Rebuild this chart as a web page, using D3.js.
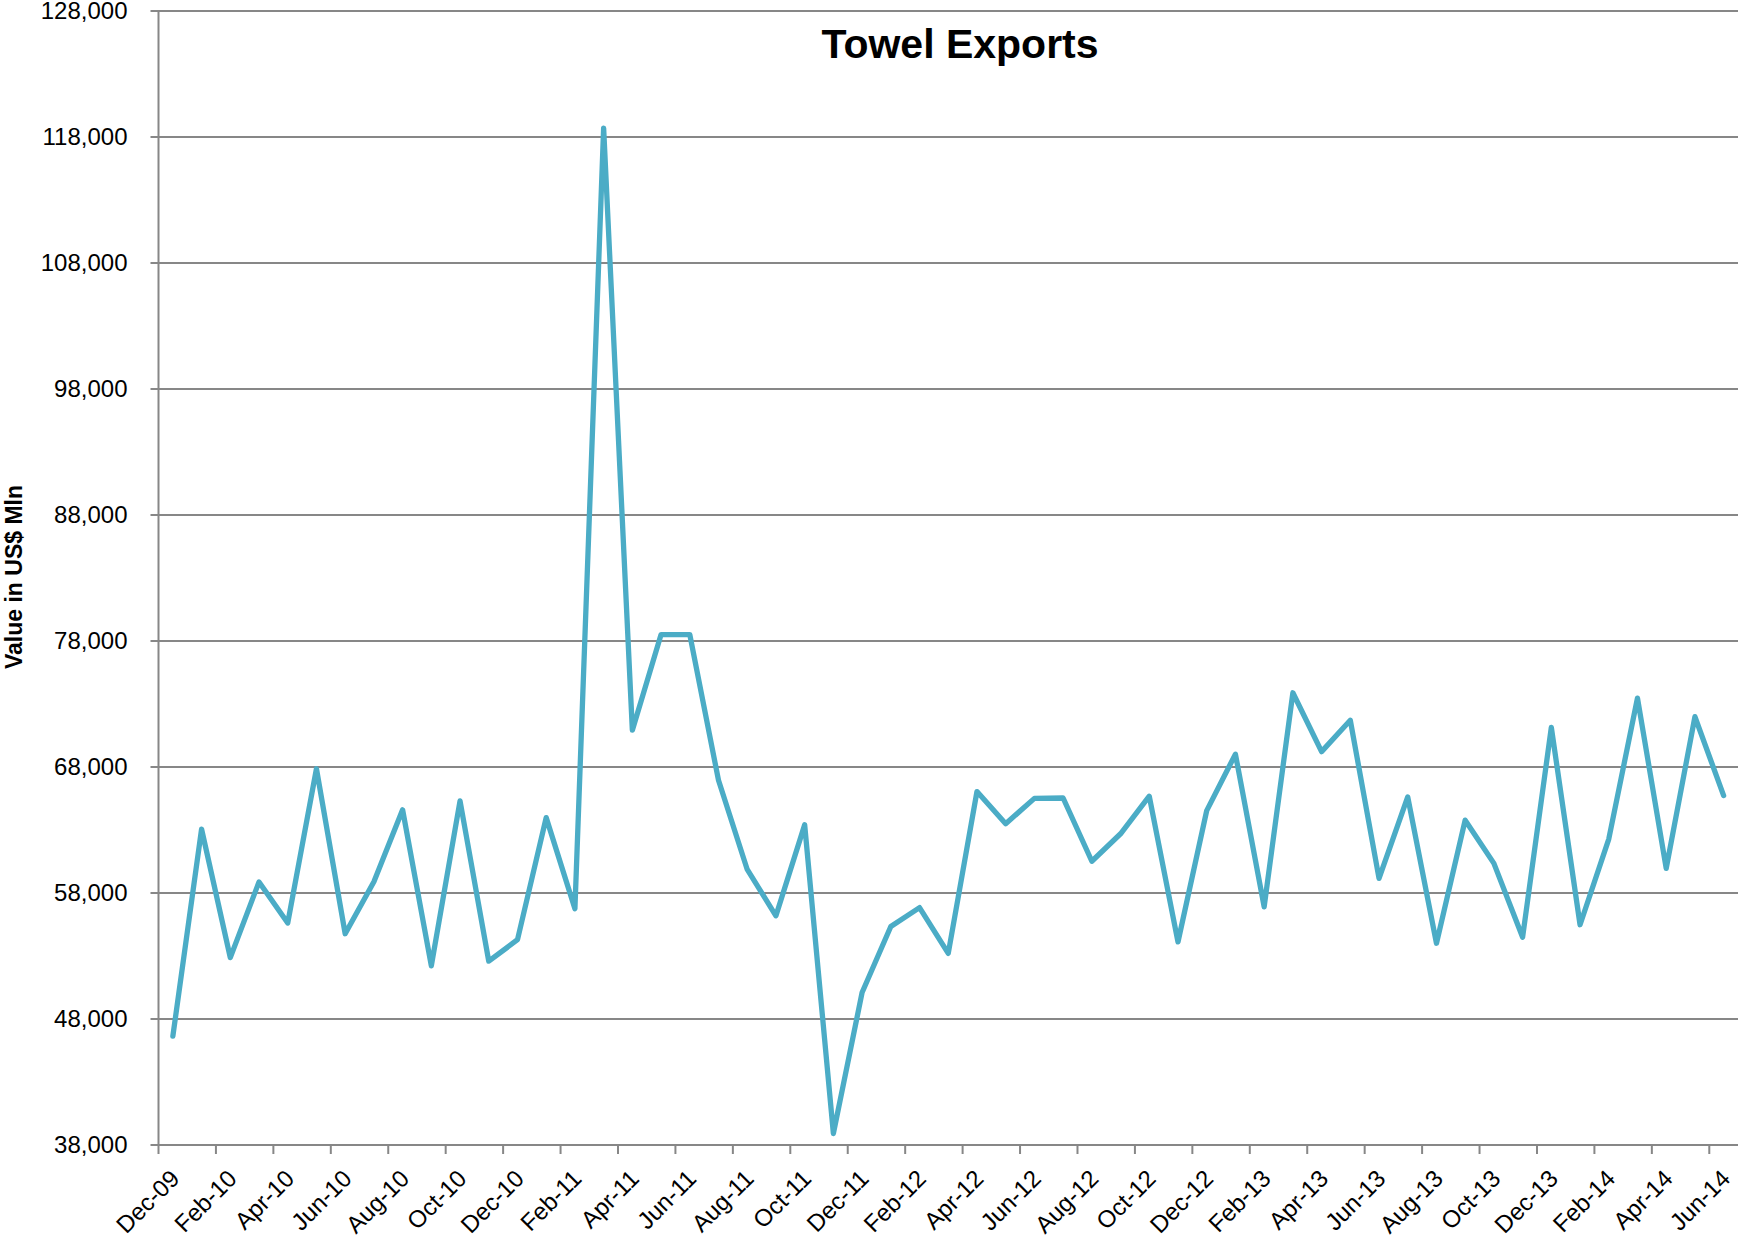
<!DOCTYPE html>
<html>
<head>
<meta charset="utf-8">
<script src="https://cdn.jsdelivr.net/npm/d3@7"></script>
<style>
  html, body { margin: 0; padding: 0; background: #ffffff; }
  svg { display: block; }
</style>
</head>
<body>
<svg id="chart" width="1738" height="1236"></svg>
<script>
const months = [
  "Dec-09",
  "Jan-10","Feb-10","Mar-10","Apr-10","May-10","Jun-10","Jul-10","Aug-10","Sep-10","Oct-10","Nov-10","Dec-10",
  "Jan-11","Feb-11","Mar-11","Apr-11","May-11","Jun-11","Jul-11","Aug-11","Sep-11","Oct-11","Nov-11","Dec-11",
  "Jan-12","Feb-12","Mar-12","Apr-12","May-12","Jun-12","Jul-12","Aug-12","Sep-12","Oct-12","Nov-12","Dec-12",
  "Jan-13","Feb-13","Mar-13","Apr-13","May-13","Jun-13","Jul-13","Aug-13","Sep-13","Oct-13","Nov-13","Dec-13",
  "Jan-14","Feb-14","Mar-14","Apr-14","May-14","Jun-14"
];

const exportValues = [
  46640,
  63070, 52870, 58880, 55620, 67860, 54770, 58900, 64600, 52220, 65310, 52590, 54290,
  63980, 56750, 118700, 70920, 78510, 78510, 66950, 59870, 56190, 63410, 38910, 50100,
  55340, 56840, 53210, 66050, 63500, 65510, 65540, 60520, 62700, 65680, 54120, 64540,
  69020, 56900, 73890, 69220, 71710, 59160, 65620, 54010, 63780, 60350, 54490, 71140,
  55480, 62280, 73470, 59950, 71990, 65730
];

const xTickLabels = [
  "Dec-09","Feb-10","Apr-10","Jun-10","Aug-10","Oct-10","Dec-10","Feb-11","Apr-11","Jun-11",
  "Aug-11","Oct-11","Dec-11","Feb-12","Apr-12","Jun-12","Aug-12","Oct-12","Dec-12","Feb-13",
  "Apr-13","Jun-13","Aug-13","Oct-13","Dec-13","Feb-14","Apr-14","Jun-14"
];

const yTicks = [38000, 48000, 58000, 68000, 78000, 88000, 98000, 108000, 118000, 128000];

const chartTitle = "Towel Exports";
const yAxisTitle = "Value in US$ Mln";

// ---- layout ----
const plotLeft = 158.5, plotRight = 1738, plotTop = 11, plotBottom = 1145;
const gridColor = "#878787";
const lineColor = "#4BACC6";
const font = "'Liberation Sans', Arial, sans-serif";

const svg = d3.select("#chart");

const x = d3.scalePoint().domain(months).range([plotLeft, plotRight]).padding(0.5);
const y = d3.scaleLinear().domain([38000, 128000]).range([plotBottom, plotTop]);
const step = x.step();

// gridlines
svg.append("g")
  .selectAll("line")
  .data(yTicks)
  .join("line")
  .attr("x1", plotLeft - 8)
  .attr("x2", plotRight)
  .attr("y1", d => y(d))
  .attr("y2", d => y(d))
  .attr("stroke", gridColor)
  .attr("stroke-width", 1.8);

// y axis labels
svg.append("g")
  .selectAll("text")
  .data(yTicks)
  .join("text")
  .attr("x", 127.5)
  .attr("y", d => y(d))
  .attr("dy", "0.35em")
  .attr("text-anchor", "end")
  .attr("font-family", font)
  .attr("font-size", 24)
  .attr("fill", "#000")
  .text(d => d3.format(",")(d));

// y axis line
svg.append("line")
  .attr("x1", plotLeft).attr("x2", plotLeft)
  .attr("y1", plotTop).attr("y2", plotBottom)
  .attr("stroke", gridColor).attr("stroke-width", 2);

// x axis ticks (category boundaries every 2 months)
const tickIdx = d3.range(0, months.length, 2);
svg.append("g")
  .selectAll("line")
  .data(tickIdx)
  .join("line")
  .attr("x1", i => x(months[i]) - step / 2)
  .attr("x2", i => x(months[i]) - step / 2)
  .attr("y1", plotBottom)
  .attr("y2", plotBottom + 9)
  .attr("stroke", gridColor)
  .attr("stroke-width", 2);

// x axis labels
svg.append("g")
  .selectAll("text")
  .data(xTickLabels)
  .join("text")
  .attr("transform", d => `translate(${x(d) + 8},${plotBottom + 35}) rotate(-45)`)
  .attr("text-anchor", "end")
  .attr("font-family", font)
  .attr("font-size", 24)
  .attr("fill", "#000")
  .text(d => d);

// data line
const line = d3.line()
  .x((d, i) => x(months[i]))
  .y(d => y(d));

svg.append("path")
  .datum(exportValues)
  .attr("d", line)
  .attr("fill", "none")
  .attr("stroke", lineColor)
  .attr("stroke-width", 5.3)
  .attr("stroke-linejoin", "round")
  .attr("stroke-linecap", "round");

// title
svg.append("text")
  .attr("x", 960)
  .attr("y", 58)
  .attr("text-anchor", "middle")
  .attr("font-family", font)
  .attr("font-weight", "bold")
  .attr("font-size", 41)
  .attr("fill", "#000")
  .text(chartTitle);

// y axis title
svg.append("text")
  .attr("transform", `translate(22,577) rotate(-90)`)
  .attr("text-anchor", "middle")
  .attr("font-family", font)
  .attr("font-weight", "bold")
  .attr("font-size", 23)
  .attr("fill", "#000")
  .text(yAxisTitle);
</script>
</body>
</html>
